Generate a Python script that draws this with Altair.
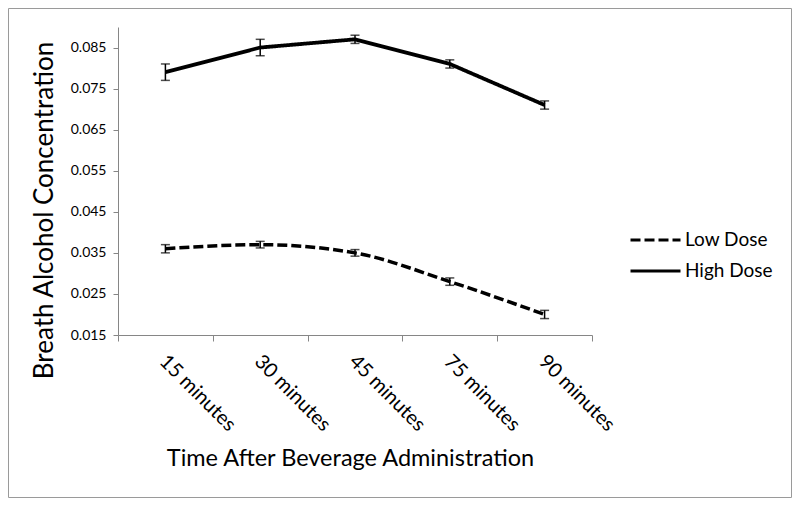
import altair as alt
import pandas as pd

times = ["15 minutes", "30 minutes", "45 minutes", "75 minutes", "90 minutes"]
low_mean = [0.036, 0.037, 0.035, 0.028, 0.020]
low_err = [0.001, 0.0008, 0.0008, 0.0009, 0.001]
high_mean = [0.079, 0.085, 0.087, 0.081, 0.071]
high_err = [0.002, 0.002, 0.001, 0.001, 0.001]
series = ["Low Dose", "High Dose"]

rows = []
for name, means, errs in [("Low Dose", low_mean, low_err), ("High Dose", high_mean, high_err)]:
    for t, m, e in zip(times, means, errs):
        rows.append({"time": t, "dose": name, "bac": m, "lo": m - e, "hi": m + e})
df = pd.DataFrame(rows)

FONT = "Lato"

x_enc = alt.X(
    "time:N",
    sort=times,
    scale=alt.Scale(paddingInner=0, paddingOuter=0),
    axis=alt.Axis(
        title="Time After Beverage Administration",
        labelAngle=45,
        labelFontSize=20,
        labelColor="black",
        labelPadding=10,
        labelOffset=4,
        titleFontSize=23.5,
        titleFontWeight="normal",
        titleColor="black",
        titlePadding=12,
        titleX=232,
        tickBand="extent",
        tickSize=6,
        tickColor="#868686",
        domainColor="#868686",
        grid=False,
    ),
)
y_scale = alt.Scale(domain=[0.015, 0.09], nice=False, zero=False)
y_axis = alt.Axis(
    title="Breath Alcohol Concentration",
    values=[0.015, 0.025, 0.035, 0.045, 0.055, 0.065, 0.075, 0.085],
    format=".3f",
    labelFontSize=14,
    labelColor="black",
    labelPadding=7,
    tickSize=5,
    tickColor="#868686",
    domainColor="#868686",
    titleFontSize=26,
    titleFontWeight="normal",
    titleColor="black",
    titlePadding=13,
    titleY=183,
    grid=False,
)

base = alt.Chart(df)

low_line = base.transform_filter(alt.datum.dose == "Low Dose").mark_line(
    color="black", strokeWidth=3.5, interpolate="monotone"
).encode(
    x=x_enc,
    y=alt.Y("bac:Q", scale=y_scale, axis=y_axis),
    strokeDash=alt.StrokeDash(
        "dose:N",
        scale=alt.Scale(domain=series, range=[[10, 4], [1, 0]]),
        legend=alt.Legend(
            title=None,
            orient="none",
            legendX=511,
            legendY=202,
            symbolType="stroke",
            symbolSize=2500,
            symbolStrokeWidth=3,
            symbolStrokeColor="black",
            labelFontSize=19,
            labelColor="black",
            labelOffset=3,
            clipHeight=22,
            rowPadding=9,
        ),
    ),
)
high_line = base.transform_filter(alt.datum.dose == "High Dose").mark_line(
    color="black", strokeWidth=3.8
).encode(
    x=alt.X("time:N", sort=times),
    y=alt.Y("bac:Q"),
    strokeDash=alt.StrokeDash("dose:N"),
)

err_rule = base.mark_rule(color="black", strokeWidth=1.5).encode(
    x=alt.X("time:N", sort=times), y=alt.Y("lo:Q"), y2="hi:Q"
)
cap_lo = base.mark_tick(color="black", thickness=1.5, size=9, orient="horizontal").encode(
    x=alt.X("time:N", sort=times), y=alt.Y("lo:Q")
)
cap_hi = base.mark_tick(color="black", thickness=1.5, size=9, orient="horizontal").encode(
    x=alt.X("time:N", sort=times), y=alt.Y("hi:Q")
)

border = alt.Chart(pd.DataFrame({"a": [0]})).mark_rect(
    fill=None, stroke="#9a9a9a", strokeWidth=1
).encode(
    x=alt.value(-109.5), x2=alt.value(673.5), y=alt.value(-18.5), y2=alt.value(470.5)
)

chart = alt.layer(low_line, high_line, err_rule, cap_lo, cap_hi, border).properties(
    width=474,
    height=308,
    padding={"left": 110, "top": 19, "right": 200, "bottom": 165},
    autosize=alt.AutoSizeParams(type="none"),
).configure(
    font=FONT,
    view=alt.ViewConfig(stroke=None),
    axis=alt.AxisConfig(labelFont=FONT, titleFont=FONT),
)

chart.save("out.html", embed_options={"renderer": "svg", "actions": False})
